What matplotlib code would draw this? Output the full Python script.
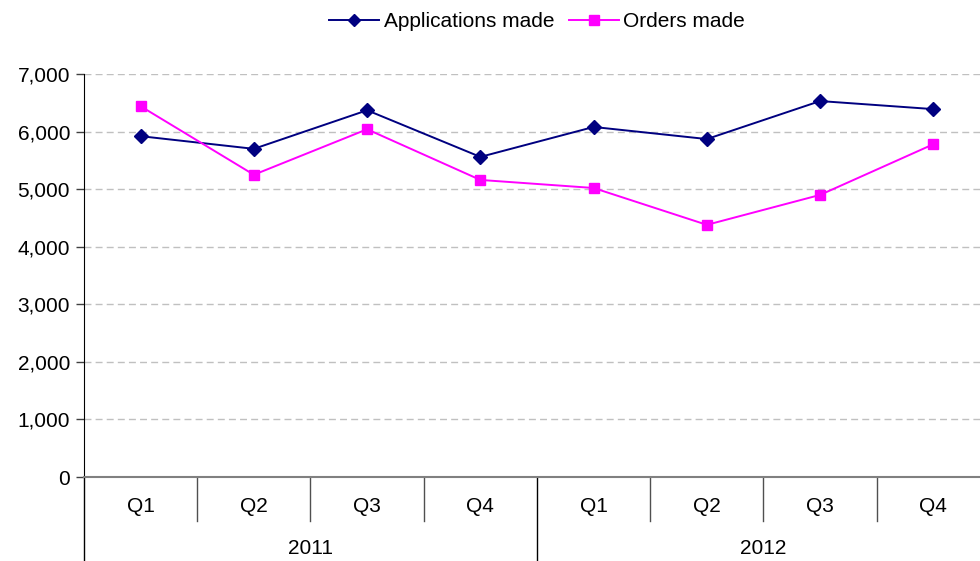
import numpy as np
import matplotlib.pyplot as plt
import matplotlib.ticker as mticker
import matplotlib.transforms as mtransforms

plt.rcParams['font.family'] = ['Liberation Sans', 'DejaVu Sans']

quarters = ["Q1", "Q2", "Q3", "Q4", "Q1", "Q2", "Q3", "Q4"]
years = ["2011", "2012"]
applications = [5920, 5700, 6370, 5560, 6080, 5870, 6530, 6390]
orders = [6440, 5250, 6040, 5160, 5020, 4380, 4900, 5780]

fig = plt.figure(figsize=(9.8, 5.61), dpi=100)
ax = fig.add_axes([0.0857, 0.1497, 0.9245, 0.7184])

x = np.arange(len(quarters))
ax.plot(x, applications, color="#000080", lw=1.4, marker="D", ms=7,
        label="Applications made")
ax.plot(x, orders, color="#FF00FF", lw=1.4, marker="s", ms=7.5,
        label="Orders made")

ax.set_xlim(-0.5, len(quarters) - 0.5)
ax.set_ylim(0, 7000)
ax.yaxis.set_major_locator(mticker.MultipleLocator(1000))
ax.yaxis.set_major_formatter(mticker.FuncFormatter(lambda v, _: f"{v:,.0f}"))
ax.yaxis.grid(True, linestyle=(0, (5, 3)), color="#c0c0c0", lw=1)
ax.set_axisbelow(True)
ax.tick_params(axis="y", length=6, width=1, color="#404040", labelsize=15, pad=4)
ax.set_xticks([])

for s in ["top", "right"]:
    ax.spines[s].set_visible(False)
ax.spines["left"].set_color("black")
ax.spines["bottom"].set_color("#808080")
ax.spines["bottom"].set_linewidth(1.5)

# two-level category axis drawn under the plot
trans = mtransforms.blended_transform_factory(ax.transData, ax.transAxes)
for i, q in enumerate(quarters):
    ax.text(i, -0.072, q, transform=trans, ha="center", va="center", fontsize=15)
for i in range(1, len(quarters)):
    low = -0.21 if i == 4 else -0.11
    ax.plot([i - 0.5, i - 0.5], [0, low], transform=trans, clip_on=False,
            color="black" if i == 4 else "#505050", lw=1)
ax.plot([-0.5, -0.5], [0, -0.21], transform=trans, clip_on=False, color="black", lw=1)
for j, yr in enumerate(years):
    ax.text(j * 4 + 1.5, -0.177, yr, transform=trans, ha="center", va="center",
            fontsize=15)

fig.legend(loc="upper center", bbox_to_anchor=(0.548, 1.012), ncol=2, frameon=False,
           fontsize=15, handlelength=2.4, handletextpad=0.2, columnspacing=0.7,
           markerscale=0.9)

fig.savefig("out.png", dpi=100)
plt.close(fig)
